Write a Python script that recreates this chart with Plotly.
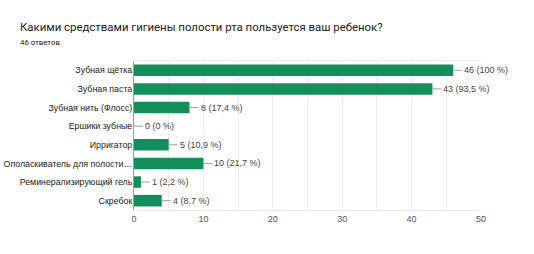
import plotly.graph_objects as go

categories = ["Зубная щётка", "Зубная паста", "Зубная нить (Флосс)", "Ершики зубные",
              "Ирригатор", "Ополаскиватель для полости…", "Реминерализирующий гель", "Скребок"]
values = [46, 43, 8, 0, 5, 10, 1, 4]
percents = ["100 %", "93,5 %", "17,4 %", "0 %", "10,9 %", "21,7 %", "2,2 %", "8,7 %"]
title = "Какими средствами гигиены полости рта пользуется ваш ребенок?"
subtitle = "46 ответов"
green = "#148f5b"

W, H = 534, 254
L, R, T, B = 134, 53, 61, 44
PW = W - L - R

fig = go.Figure(go.Bar(
    x=values, y=categories, orientation="h",
    marker=dict(color=green, line=dict(width=0)),
    width=0.62, hoverinfo="skip",
))

for c, v, p in zip(categories, values, percents):
    fig.add_annotation(
        x=v, y=c, text=f"{v} ({p})", showarrow=True, arrowhead=0, arrowwidth=1,
        arrowcolor="#9e9e9e", ax=9, ay=0, xanchor="left", standoff=0,
        font=dict(family="Liberation Sans, Arial", size=9, color="#444444"),
    )

fig.update_layout(
    width=W, height=H,
    margin=dict(l=L, r=R, t=T, b=B, autoexpand=False),
    paper_bgcolor="white", plot_bgcolor="white",
    showlegend=False,
    font=dict(family="Liberation Sans, Arial", size=9, color="#333333"),
    xaxis=dict(range=[0, 50], dtick=10, tick0=0, showgrid=True, gridcolor="#ebebeb",
               minor=dict(dtick=5, showgrid=True, gridcolor="#ebebeb"),
               zeroline=False, showline=True, mirror=True, linecolor="#ebebeb",
               tickfont=dict(size=9, color="#555555"), ticks="", fixedrange=True,
               automargin=False),
    yaxis=dict(autorange="reversed", showgrid=False, zeroline=False,
               showline=True, linecolor="#9e9e9e", ticks="", ticklen=0,
               ticklabelstandoff=-1,
               tickfont=dict(size=8.8, color="#222222"), fixedrange=True,
               automargin=False),
)

fig.add_annotation(text=title, xref="paper", yref="paper", x=(18 - L) / PW, y=1,
                   xanchor="left", yanchor="middle", yshift=T - 27,
                   showarrow=False,
                   font=dict(family="Roboto", size=11.4, color="#202124"))
fig.add_annotation(text=subtitle, xref="paper", yref="paper", x=(18 - L) / PW, y=1,
                   xanchor="left", yanchor="middle", yshift=T - 42,
                   showarrow=False,
                   font=dict(family="Roboto", size=7.8, color="#202124"))

fig.write_html("out.html", config={"displayModeBar": False},
               post_script="document.body.style.margin='0';")
